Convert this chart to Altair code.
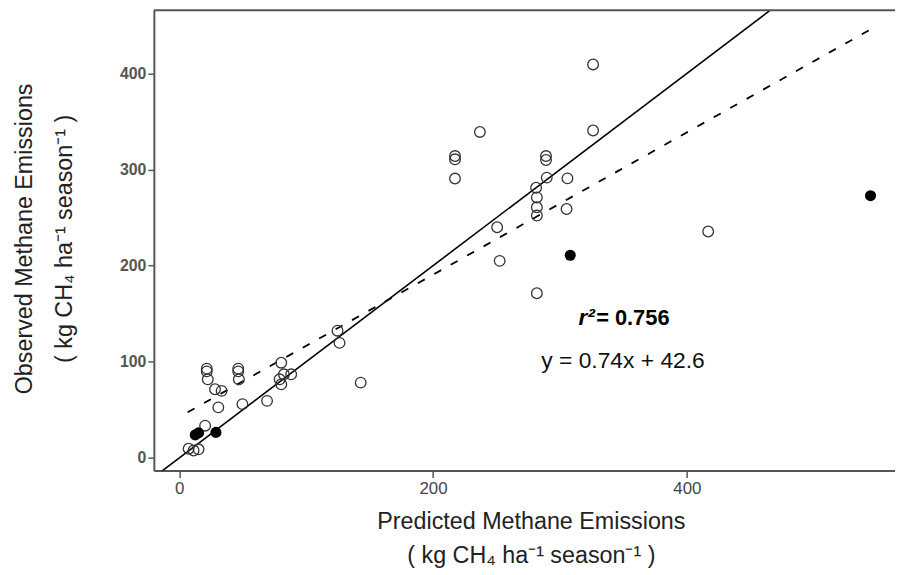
import altair as alt
import pandas as pd

# Open circles: predicted (x) vs observed (y)
pred_open = [7.4, 11.3, 15.2, 20.4, 21.7, 21.7, 22.5, 28.2, 33.4, 30.8,
             46.5, 46.5, 47.0, 49.8, 69.2, 80.4, 82.5, 79.1, 80.4, 88.2,
             124.7, 126.3, 143.0, 217.3, 217.3, 217.3, 236.9, 250.5, 252.5, 281.2,
             281.8, 281.8, 281.8, 281.8, 289.0, 289.0, 289.6, 305.9, 305.2, 326.1,
             326.1, 416.8]
obs_open = [9.6, 7.8, 9.0, 33.6, 92.9, 90.1, 81.8, 71.5, 69.8, 52.6,
            92.9, 90.1, 81.8, 56.0, 59.4, 99.1, 87.0, 81.8, 76.6, 87.0,
            132.4, 119.7, 78.4, 314.0, 310.6, 290.6, 339.1, 240.0, 205.0, 281.0,
            271.0, 260.7, 252.1, 171.3, 314.0, 309.9, 291.6, 290.8, 259.0, 409.3,
            340.6, 235.6]

# Filled circles
pred_filled = [12.6, 15.2, 28.9, 308.1, 544.7]
obs_filled = [24.0, 26.1, 26.6, 210.8, 272.8]

# 1:1 line and fitted line (y = 0.74x + 42.6)
one_x = [-25, 500]
one_y = [-25, 500]
fit_x = [6.6, 544.7]
fit_y = [47.5, 445.7]

x_ticks = [0, 200, 400]
y_ticks = [0, 100, 200, 300, 400]

W, H = 747, 464
XDOM = [-20.0, 564.0]
YDOM = [-13.1, 465.7]

FONT = "Liberation Sans"
UNIT = "( kg CH\u2084 ha\u207b\u00b9 season\u207b\u00b9 )"

xs = alt.Scale(domain=XDOM, nice=False, zero=False)
ys = alt.Scale(domain=YDOM, nice=False, zero=False)

x_axis = alt.Axis(
    values=x_ticks, grid=False, title=["Predicted Methane Emissions", UNIT],
    titleFont=FONT, titleFontSize=23.5, titleFontWeight="normal", titleColor="#222222",
    titleLineHeight=35, titleX=380, titleY=51, titleBaseline="middle", titleAnchor="middle",
    labelFont=FONT, labelFontSize=17, labelColor="#444444", labelPadding=3,
    tickSize=7, tickColor="#555555", tickWidth=1.5,
    domainColor="#555555", domainWidth=2,
)
y_axis = alt.Axis(
    values=y_ticks, grid=False, title=["Observed Methane Emissions", UNIT],
    titleFont=FONT, titleFontSize=23.5, titleFontWeight="normal", titleColor="#222222",
    titleLineHeight=40, titleAngle=-90, titleX=-130, titleY=230, titleBaseline="middle",
    titleAlign="center",
    labelFont=FONT, labelFontSize=16, labelFontWeight="bold", labelColor="#555555",
    labelPadding=2, tickSize=6, tickColor="#555555", tickWidth=1.5,
    domainColor="#555555", domainWidth=2,
)

df_open = pd.DataFrame({"pred": pred_open, "obs": obs_open})
df_fill = pd.DataFrame({"pred": pred_filled, "obs": obs_filled})
df_one = pd.DataFrame({"x": one_x, "y": one_y})
df_fit = pd.DataFrame({"x": fit_x, "y": fit_y})

one_line = alt.Chart(df_one).mark_line(color="black", strokeWidth=1.6, clip=True).encode(
    x=alt.X("x:Q", scale=xs, axis=x_axis),
    y=alt.Y("y:Q", scale=ys, axis=y_axis),
)
fit_line = alt.Chart(df_fit).mark_line(color="black", strokeWidth=1.8, strokeDash=[8, 11], clip=True).encode(
    x=alt.X("x:Q", scale=xs),
    y=alt.Y("y:Q", scale=ys),
)
open_pts = alt.Chart(df_open).mark_point(shape="circle", filled=False, color="#333333",
                                         size=115, strokeWidth=1.3, opacity=1).encode(
    x=alt.X("pred:Q", scale=xs),
    y=alt.Y("obs:Q", scale=ys),
)
fill_pts = alt.Chart(df_fill).mark_point(shape="circle", filled=True, color="black",
                                         size=125, opacity=1).encode(
    x=alt.X("pred:Q", scale=xs),
    y=alt.Y("obs:Q", scale=ys),
)

r_text = alt.Chart().mark_text(text="r\u00b2", font=FONT, fontSize=23, fontWeight="bold",
                               fontStyle="italic", color="black", align="right",
                               baseline="middle").encode(
    x=alt.datum(327.5, scale=xs), y=alt.datum(145.8, scale=ys)
)
r2_text = alt.Chart().mark_text(text="= 0.756", font=FONT, fontSize=22, fontWeight="bold",
                                color="black", align="left", baseline="middle").encode(
    x=alt.datum(328.5, scale=xs), y=alt.datum(145.8, scale=ys)
)
eq_text = alt.Chart().mark_text(text="y = 0.74x + 42.6", font=FONT, fontSize=23,
                                color="#111111", align="center", baseline="middle").encode(
    x=alt.datum(349.7, scale=xs), y=alt.datum(100.4, scale=ys)
)

top_border = alt.Chart().mark_rule(color="#555555", strokeWidth=2).encode(
    x=alt.value(0), x2=alt.value(W), y=alt.value(0)
)

chart = alt.layer(one_line, fit_line, open_pts, fill_pts, r_text, r2_text, eq_text, top_border).properties(
    width=W, height=H,
    autosize=alt.AutoSizeParams(type="none"),
    padding={"left": 147, "top": 0, "right": 0, "bottom": 100},
    background="white",
).configure_view(stroke=None)

chart.save("out.html", embed_options={"renderer": "svg", "actions": False})
